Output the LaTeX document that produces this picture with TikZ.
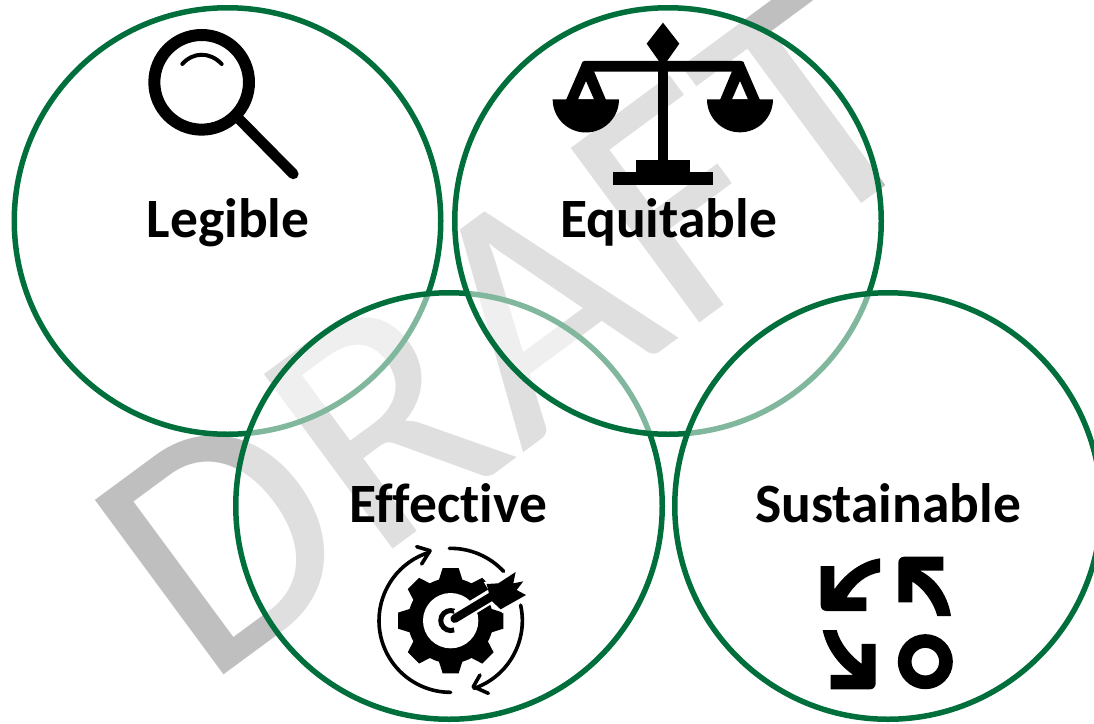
\documentclass[tikz,border=0pt]{standalone}
\usepackage{fontspec}
\setmainfont[Ligatures=NoCommon]{Carlito}
\definecolor{ringgreen}{HTML}{006F3C}
\definecolor{wmgrey}{HTML}{BFBFBF}
\tikzset{
  ring/.style={circle,draw=ringgreen,line width=5.5pt,fill=white,fill opacity=0.5,inner sep=0pt,outer sep=0pt,minimum size=426.5pt},
  caption/.style={anchor=base,font=\fontsize{55.5}{60}\selectfont\bfseries,text=black},
  watermark/.style={anchor=base west,rotate=36.4,font=\fontsize{338}{350}\selectfont\addfontfeature{LetterSpace=0.5},text=wmgrey,inner sep=0pt,outer sep=0pt},
  iconscope/.style={x=0.3333pt,y=-0.3333pt}
}
\begin{document}
\begin{tikzpicture}[x=1pt,y=-1pt]
\clip (0,0) rectangle (1094,723);
\useasboundingbox (0,0) rectangle (1094,723);
\fill[white] (0,0) rectangle (1094,723);
\node[watermark] (draft) at (205,688) {DRAFT};
\node[ring] (legible) at (227.5,221) {};
\node[ring] (effective) at (449,506) {};
\node[ring] (equitable) at (668,221) {};
\node[ring] (sustainable) at (888,506) {};
\node[caption] (tlegible) at (228,237) {Legible};
\node[caption] (tequitable) at (668.5,237) {Equitable};
\node[caption] (teffective) at (448.5,522.5) {Effective};
\node[caption] (tsustainable) at (888,522.5) {Sustainable};
% magnifier
\begin{scope}[shift={(130,20)},iconscope]
\draw[black,line width=12pt] (215,187) circle[radius=142];
\draw[black,line width=4pt,line cap=round] (157,132) .. controls (190,95) and (240,95) .. (275,132);
\draw[black,line width=10.5pt,line cap=round] (330,300) -- (490,462);
\end{scope}
% scales
\begin{scope}[shift={(540,10)},iconscope]
\fill[black] (369,38) -- (418,101) -- (380,155) -- (358,155) -- (320,101) -- cycle;
\fill[black,rounded corners=3pt] (125,153) -- (612,153) -- (612,185) -- (125,185) -- cycle;
\fill[black] (353,155) rectangle (385,455);
\fill[black] (287,450) rectangle (451,486);
\fill[black] (220,485) rectangle (518,524);
\fill[black,even odd rule] (128,155) -- (78,270) -- (198,270) -- (150,155) -- cycle (138,213) -- (162,268) -- (114,268) -- cycle;
\fill[black,even odd rule] (610,155) -- (660,270) -- (540,270) -- (588,155) -- cycle (600,213) -- (624,268) -- (576,268) -- cycle;
\fill[black] (38,268) arc[start angle=180,end angle=0,radius=99.5] -- cycle;
\fill[black] (501,268) arc[start angle=180,end angle=0,radius=99] -- cycle;
\end{scope}
% gear and target
\begin{scope}[shift={(360,530)},iconscope]
\begin{scope}[shift={(272,272)}]
\fill[black] (0,0) circle[radius=128];
\foreach \a in {0,45,...,315}{
  \fill[black,rotate=\a] (-36,-120) -- (-24,-158) -- (24,-158) -- (36,-120) -- cycle;
}
\fill[white] (0,0) circle[radius=83];
\draw[black,line width=5pt] (12,-28) arc[start angle=-67,end angle=-290,radius=30];
\draw[white,line width=14pt] (20,-12) -- (135,-82);
\draw[black,line width=8.5pt,line cap=round] (12,-6) -- (128,-76);
\fill[white] (100,-115) -- (195,-160) -- (235,-70) -- (155,-22) -- cycle;
\fill[black] (108,-110) -- (143,-112) -- (195,-146) -- (188,-112) -- (218,-118) -- (198,-92) -- (226,-77) -- (150,-34) -- (120,-62) -- cycle;
\draw[black,line width=3.6pt,line cap=round] (90:215) arc[start angle=90,end angle=253,radius=215];
\draw[black,line width=3.6pt,line cap=round] (-91:217) arc[start angle=-91,end angle=-43,radius=217];
\draw[black,line width=3.6pt,line cap=round] (-12.5:215) arc[start angle=-12.5,end angle=71,radius=215];
\draw[black,line width=3.6pt,line cap=round,line join=round] (-102,-222) -- (-62,-210) -- (-87,-170);
\draw[black,line width=3.6pt,line cap=round,line join=round] (113,218) -- (68,198) -- (88,163);
\end{scope}
\end{scope}
% recycling arrows
\begin{scope}[shift={(800,540)},iconscope]
\fill[black] (62,78) -- (103,78) -- (103,148) .. controls (140,95) and (190,62) .. (240,55) -- (240,97) .. controls (200,103) and (165,130) .. (140,172) -- (199,172) -- (199,213) -- (80,213) .. controls (68,213) and (62,205) .. (62,195) -- cycle;
\fill[black] (430,50) -- (430,92) -- (360,92) .. controls (415,120) and (445,175) .. (453,228) -- (412,228) .. controls (400,185) and (370,145) .. (337,125) -- (337,187) -- (295,187) -- (295,68) .. controls (295,58) and (302,50) .. (313,50) -- cycle;
\fill[black] (227,312) -- (185,312) -- (185,372) .. controls (150,345) and (120,310) .. (110,270) -- (68,270) .. controls (78,320) and (110,370) .. (160,405) -- (92,405) -- (92,448) -- (210,448) .. controls (220,448) and (227,440) .. (227,430) -- cycle;
\draw[black,line width=13.7pt] (376,365) circle[radius=62];
\end{scope}
\end{tikzpicture}
\end{document}
